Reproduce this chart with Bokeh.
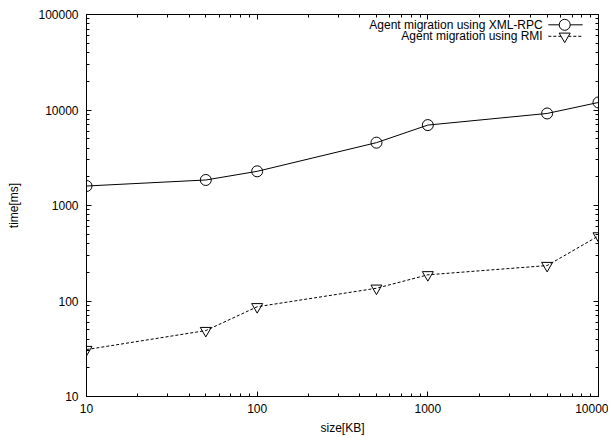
import math
from bokeh.plotting import figure
from bokeh.models import LogAxis, FixedTicker, Label, ColumnDataSource
from bokeh.embed import file_html
from bokeh.resources import INLINE

# ---- data ----
sizes_kb = [10, 50, 100, 500, 1000, 5000, 10000]
xmlrpc_ms = [1600, 1850, 2280, 4550, 6950, 9200, 12000]
rmi_ms = [31, 49, 87, 136, 188, 235, 480]

series_labels = ["Agent migration using XML-RPC", "Agent migration using RMI"]
x_tick_values = [10, 100, 1000, 10000]
x_tick_labels = ["10", "100", "1000", "10000"]
y_tick_values = [10, 100, 1000, 10000, 100000]
y_tick_labels = ["10", "100", "1000", "10000", "100000"]
x_label = "size[KB]"
y_label = "time[ms]"

X0, X1 = 10, 10000
Y0, Y1 = 10, 100000

FONT = "Liberation Sans"


def minor_ticks(lo, hi):
    out = []
    d = lo
    while d < hi:
        for k in range(2, 10):
            out.append(d * k)
        d *= 10
    return out


p = figure(width=608, height=437, x_axis_type="log", y_axis_type="log",
           x_range=(X0, X1), y_range=(Y0, Y1),
           output_backend="svg", toolbar_location=None,
           min_border_left=86, min_border_right=10, min_border_top=14,
           min_border_bottom=40)
p.grid.visible = False
p.outline_line_color = "black"
p.outline_line_width = 1
p.background_fill_color = "white"
p.border_fill_color = "white"

xt = FixedTicker(ticks=x_tick_values, minor_ticks=minor_ticks(X0, X1))
yt = FixedTicker(ticks=y_tick_values, minor_ticks=minor_ticks(Y0, Y1))


def style_axis(ax, labels=True):
    ax.major_tick_in = 5
    ax.major_tick_out = 0
    ax.minor_tick_in = 3
    ax.minor_tick_out = 0
    ax.major_tick_line_color = "black"
    ax.minor_tick_line_color = "black"
    ax.axis_line_color = "black"
    ax.axis_line_width = 1
    if labels:
        ax.major_label_text_font = FONT
        ax.major_label_text_font_size = "12px"
        ax.major_label_text_color = "black"
        ax.axis_label_text_font = FONT
        ax.axis_label_text_font_size = "12px"
        ax.axis_label_text_font_style = "normal"
        ax.axis_label_text_color = "black"
    else:
        ax.major_label_text_font_size = "1px"
        ax.major_label_text_alpha = 0
        ax.major_label_standoff = 0


xa = p.xaxis[0]
xa.ticker = xt
xa.major_label_overrides = {v: s for v, s in zip(x_tick_values, x_tick_labels)}
xa.axis_label = x_label
style_axis(xa)
xa.major_label_standoff = 7
xa.axis_label_standoff = 5

ya = p.yaxis[0]
ya.ticker = yt
ya.major_label_overrides = {v: s for v, s in zip(y_tick_values, y_tick_labels)}
ya.axis_label = y_label
style_axis(ya)
ya.major_label_standoff = 8
ya.axis_label_standoff = 14

top_ax = LogAxis(ticker=xt)
style_axis(top_ax, labels=False)
p.add_layout(top_ax, "above")
right_ax = LogAxis(ticker=yt)
style_axis(right_ax, labels=False)
p.add_layout(right_ax, "right")

# ---- series ----
src_x = ColumnDataSource(dict(x=sizes_kb, y=xmlrpc_ms))
src_r = ColumnDataSource(dict(x=sizes_kb, y=rmi_ms))

p.line("x", "y", source=src_x, line_color="black", line_width=1)
p.scatter("x", "y", source=src_x, marker="circle", size=11,
          fill_color=None, line_color="black", line_width=1)

p.line("x", "y", source=src_r, line_color="black", line_width=1, line_dash="3 2")
p.scatter("x", "y", source=src_r, marker="inverted_triangle", size=11,
          fill_color=None, line_color="black", line_width=1)


# ---- gnuplot-style legend (text left, sample right), placed by frame fractions ----
def fx(f):
    return 10 ** (math.log10(X0) + f * (math.log10(X1) - math.log10(X0)))


def fy(f):
    return 10 ** (math.log10(Y1) - f * (math.log10(Y1) - math.log10(Y0)))


text_right = 0.891
line_l, line_r, mark_c = 0.902, 0.969, 0.934
rows = [0.027, 0.057]
dashes = ["solid", "3 2"]
markers = ["circle", "inverted_triangle"]

for lab, rf, dash, mk in zip(series_labels, rows, dashes, markers):
    p.add_layout(Label(x=fx(text_right), y=fy(rf), text=lab, text_align="right",
                       text_baseline="middle", text_font=FONT,
                       text_font_size="12px", text_color="black"))
    p.line([fx(line_l), fx(line_r)], [fy(rf), fy(rf)], line_color="black",
           line_width=1, line_dash=dash)
    p.scatter([fx(mark_c)], [fy(rf)], marker=mk, size=11, fill_color="white",
              line_color="black", line_width=1)

open("out.html", "w").write(file_html(p, INLINE))
